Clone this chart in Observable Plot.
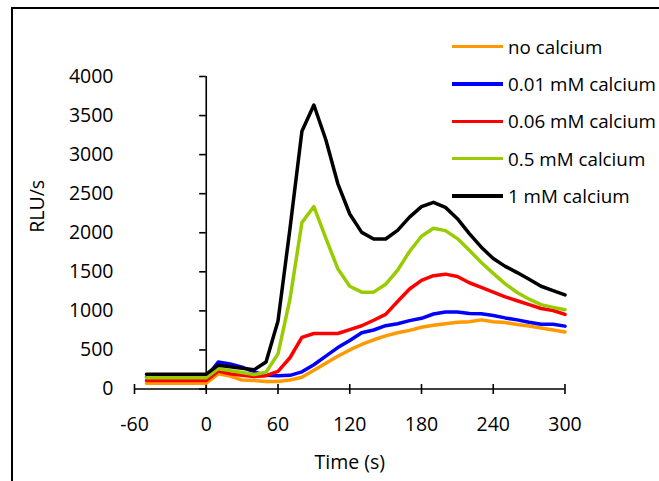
<!DOCTYPE html>
<html><head><meta charset="utf-8">
<script src="https://cdn.jsdelivr.net/npm/d3@7"></script>
<script src="https://cdn.jsdelivr.net/npm/@observablehq/plot@0.6"></script>
<style>
html,body{margin:0;padding:0;background:#fff;}
#wrap{position:relative;width:659px;height:481px;overflow:hidden;font-family:"Open Sans",sans-serif;background:#fff;}
#chart{position:absolute;left:0;top:0;}
#frame{position:absolute;left:11px;top:7px;width:720px;height:540px;border:2px solid #000;pointer-events:none;}
#legend{position:absolute;left:452px;top:0;}
.row{position:absolute;left:0;white-space:nowrap;display:flex;align-items:center;height:24px;}
.sw{width:51px;height:3.5px;margin-right:5px;}
.lab{font-size:18.8px;color:#000;line-height:24px;}
</style></head><body>
<div id="wrap"><div id="chart"></div><div id="legend"></div><div id="frame"></div></div>
<script>
const times = [-50,-40,-30,-20,-10,0,10,20,30,40,50,60,70,80,90,100,110,120,130,140,150,160,170,180,190,200,210,220,230,240,250,260,270,280,290,300];
const seriesNames = ["no calcium","0.01 mM calcium","0.06 mM calcium","0.5 mM calcium","1 mM calcium"];
const seriesColors = ["#FF9900","#0000FF","#FF0000","#99CC00","#000000"];
const noCalcium = [75,75,75,75,75,75,195,165,115,110,95,95,115,150,240,330,420,500,570,630,680,720,750,790,815,835,855,860,885,860,850,825,805,780,755,730];
const ca001 = [150,150,150,150,150,150,345,320,280,220,175,170,175,220,310,420,530,620,720,755,810,835,875,905,960,985,985,965,962,940,910,885,855,830,830,805];
const ca006 = [110,110,110,110,110,110,230,195,175,160,170,225,400,660,710,710,710,760,810,880,955,1120,1280,1390,1450,1470,1440,1360,1300,1240,1180,1130,1080,1030,1005,955];
const ca05 = [145,145,145,145,145,145,260,235,210,185,215,450,1150,2130,2335,1930,1540,1315,1240,1240,1340,1520,1760,1955,2058,2027,1925,1775,1620,1480,1345,1235,1150,1080,1045,1015];
const ca1 = [190,190,190,190,190,190,305,285,265,245,345,870,2050,3300,3635,3190,2630,2240,2005,1920,1920,2030,2200,2335,2390,2325,2180,1990,1815,1670,1570,1490,1405,1315,1260,1205];
const xTicks = [-60,0,60,120,180,240,300];
const yTicks = [0,500,1000,1500,2000,2500,3000,3500,4000];
const xLabel = "Time (s)";
const yLabel = "RLU/s";

const allSeries = [noCalcium, ca001, ca006, ca05, ca1];
const rows = [];
allSeries.forEach((vals, i) => vals.forEach((v, j) => rows.push({t: times[j], v, s: seriesNames[i]})));

const axisStyle = {stroke: "#000", strokeWidth: 1.6};
const plot = Plot.plot({
  width: 659, height: 481,
  marginLeft: 134, marginRight: 94.5, marginTop: 76, marginBottom: 92.5,
  x: {domain: [-60, 300], axis: null},
  y: {domain: [0, 4000], axis: null},
  color: {domain: seriesNames, range: seriesColors},
  style: {fontFamily: '"Open Sans", sans-serif', fontSize: "19.5px", background: "transparent", color: "#000"},
  marks: [
    Plot.ruleY([0], {x1: -60, x2: 300, ...axisStyle}),
    Plot.ruleX([0], {y1: 0, y2: 4000, ...axisStyle}),
    Plot.ruleX(xTicks, {y1: -70, y2: 58, ...axisStyle}),
    Plot.ruleY(yTicks, {x1: -5.5, x2: 0, ...axisStyle}),
    Plot.axisX({ticks: xTicks, tickSize: 0, tickPadding: 28, label: null, tickFormat: d => String(d)}),
    Plot.axisY({ticks: yTicks, tickSize: 0, tickPadding: 21, label: null, tickFormat: d => String(d)}),
    Plot.line(rows, {x: "t", y: "v", z: "s", stroke: "s", strokeWidth: 3.5, strokeLinejoin: "round"}),
    Plot.text([xLabel], {frameAnchor: "bottom", dy: 80}),
    Plot.text([yLabel], {frameAnchor: "left", dx: -97, rotate: -90})
  ]
});
document.getElementById("chart").appendChild(plot);

const legend = document.getElementById("legend");
seriesNames.forEach((name, i) => {
  const row = document.createElement("div");
  row.className = "row";
  row.style.top = (46.7 + i * 37.3 - 12) + "px";
  const sw = document.createElement("div");
  sw.className = "sw";
  sw.style.background = seriesColors[i];
  const lab = document.createElement("span");
  lab.className = "lab";
  lab.textContent = name;
  row.appendChild(sw);
  row.appendChild(lab);
  legend.appendChild(row);
});
</script>
</body></html>
